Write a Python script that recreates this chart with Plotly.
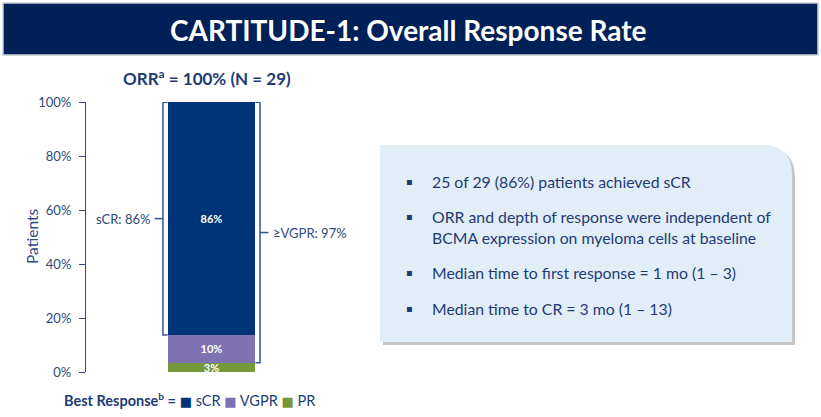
import plotly.graph_objects as go

# ---- data ----
categories = ["sCR", "VGPR", "PR"]
values = [86.2, 10.3, 3.4]          # % of patients (25, 3, 1 of 29)
bar_labels = ["86%", "10%", "3%"]
colors = ["#003478", "#7F72B2", "#77983A"]
bracket_labels = ["sCR: 86%", "\u2265VGPR: 97%"]
y_ticks = [0, 20, 40, 60, 80, 100]
y_tick_text = [f"{v}%" for v in y_ticks]
bullets = [
    ["25 of 29 (86%) patients achieved sCR"],
    ["ORR and depth of response were independent of",
     "BCMA expression on myeloma cells at baseline"],
    ["Median time to first response = 1 mo (1 \u2013 3)"],
    ["Median time to CR = 3 mo (1 \u2013 13)"],
]

W, H = 821, 417
ML, MR, MT, MB = 86, 484, 102, 45
PW, PH = W - ML - MR, H - MT - MB


def px(x):
    return (x - ML) / PW


def py(y):
    return (H - MB - y) / PH


FONT = "Lato"
TXT = "#1F3B73"
AX = "#2E4A7A"

fig = go.Figure()

# stacked bars: bottom PR, then VGPR, then sCR
for i in [2, 1, 0]:
    fig.add_trace(go.Bar(
        x=[0], y=[values[i]], width=1.04, name=categories[i],
        marker=dict(color=colors[i], line=dict(width=0)),
        text=[bar_labels[i]], textposition="inside", insidetextanchor="middle",
        textfont=dict(color="white", size=11, family=FONT, weight="bold"),
        showlegend=False, hoverinfo="skip",
    ))

# brackets from cumulative data
base_pr = values[2]
base_scr = values[2] + values[1]
top = base_scr + values[0]
bcol = "#2F5597"
xl, xr, arm = -0.58, 0.58, 0.055
fig.add_trace(go.Scatter(
    x=[xl + arm, xl, xl, xl + arm], y=[base_scr, base_scr, top, top],
    mode="lines", line=dict(color=bcol, width=1.5), showlegend=False, hoverinfo="skip"))
mid_l = (base_scr + top) / 2
fig.add_trace(go.Scatter(
    x=[xl, xl - 0.1], y=[mid_l, mid_l], mode="lines",
    line=dict(color=bcol, width=1.5), showlegend=False, hoverinfo="skip"))
fig.add_trace(go.Scatter(
    x=[xr - arm, xr, xr, xr - arm], y=[base_pr, base_pr, top, top],
    mode="lines", line=dict(color=bcol, width=1.5), showlegend=False, hoverinfo="skip"))
mid_r = (base_pr + top) / 2
fig.add_trace(go.Scatter(
    x=[xr, xr + 0.1], y=[mid_r, mid_r], mode="lines",
    line=dict(color=bcol, width=1.5), showlegend=False, hoverinfo="skip"))

annotations = []
annotations.append(dict(x=xl - 0.13, y=mid_l, xref="x", yref="y", text=bracket_labels[0],
                        showarrow=False, xanchor="right", yanchor="middle",
                        font=dict(size=13, color=AX, family=FONT)))
annotations.append(dict(x=xr + 0.13, y=mid_r, xref="x", yref="y", text=bracket_labels[1],
                        showarrow=False, xanchor="left", yanchor="middle",
                        font=dict(size=13, color=AX, family=FONT)))

# title banner
shapes = [
    dict(type="rect", xref="paper", yref="paper", x0=px(3), x1=px(818), y0=py(55), y1=py(3),
         fillcolor="#002157", line=dict(color="#C9CDD3", width=1.5), layer="below"),
]
annotations.append(dict(x=px(408), y=py(30), xref="paper", yref="paper",
                        text="<b>CARTITUDE-1: Overall Response Rate</b>", showarrow=False,
                        xanchor="center", yanchor="middle",
                        font=dict(size=28, color="white", family=FONT)))

# subtitle
annotations.append(dict(x=px(207), y=py(77), xref="paper", yref="paper",
                        text="<b>ORR<sup>a</sup> = 100% (N = 29)</b>", showarrow=False,
                        xanchor="center", yanchor="middle",
                        font=dict(size=17, color=TXT, family=FONT)))

# y-axis title
annotations.append(dict(x=px(32), y=py(237), xref="paper", yref="paper", text="Patients",
                        showarrow=False, textangle=-90, xanchor="center", yanchor="middle",
                        font=dict(size=15.5, color="#2E4A8A", family=FONT)))

# legend line
leg = "<b>Best Response<sup>b</sup> =</b>"
for c, col in zip(categories, colors):
    leg += (f" <span style='color:{col};font-size:13px;font-family:DejaVu Sans'>"
            f"\u25A0</span> {c}")
annotations.append(dict(x=px(62), y=py(399), xref="paper", yref="paper", text=leg,
                        showarrow=False, xanchor="left", yanchor="middle",
                        font=dict(size=14.5, color=TXT, family=FONT)))

# text box with rounded top-right corner + shadow


def box_path(L, T, R, B, r, dx=0, dy=0):
    L, T, R, B = L + dx, T + dy, R + dx, B + dy
    return (f"M {px(L)},{py(B)} L {px(L)},{py(T)} L {px(R - r)},{py(T)} "
            f"Q {px(R)},{py(T)} {px(R)},{py(T + r)} L {px(R)},{py(B)} Z")


shapes.append(dict(type="path", xref="paper", yref="paper",
                   path=box_path(380, 145, 792, 342, 30, 3, 3),
                   fillcolor="rgba(90,90,90,0.35)", line=dict(width=0), layer="below"))
shapes.append(dict(type="path", xref="paper", yref="paper",
                   path=box_path(380, 145, 792, 342, 30),
                   fillcolor="#E1EEF8", line=dict(width=0), layer="below"))

line_y = [[181], [216, 237], [272], [308]]
for lines, ys in zip(bullets, line_y):
    annotations.append(dict(x=px(409), y=py(ys[0]), xref="paper", yref="paper", text="\u25AA",
                            showarrow=False, xanchor="center", yanchor="middle",
                            font=dict(size=10, color=TXT, family="DejaVu Sans")))
    for t, yy in zip(lines, ys):
        annotations.append(dict(x=px(430), y=py(yy), xref="paper", yref="paper", text=t,
                                showarrow=False, xanchor="left", yanchor="middle",
                                font=dict(size=15.8, color=TXT, family=FONT)))

fig.update_layout(
    width=W, height=H, margin=dict(l=ML, r=MR, t=MT, b=MB, pad=0),
    barmode="stack", paper_bgcolor="white", plot_bgcolor="rgba(0,0,0,0)",
    font=dict(family=FONT, color=AX),
    uniformtext=dict(minsize=11, mode="show"),
    xaxis=dict(range=[-1.5, 1.5], visible=False, fixedrange=True),
    yaxis=dict(range=[0, 100], tickmode="array", tickvals=y_ticks, ticktext=y_tick_text,
               ticks="outside", ticklabelstandoff=5,
               ticklen=6, tickcolor=AX, showline=True, linecolor=AX, linewidth=1.2,
               showgrid=False, zeroline=False, tickfont=dict(size=13, color=AX, family=FONT),
               fixedrange=True),
    shapes=shapes, annotations=annotations, showlegend=False,
)

fig.write_html("out.html", config={"displayModeBar": False},
               post_script="document.body.style.margin='0';")
